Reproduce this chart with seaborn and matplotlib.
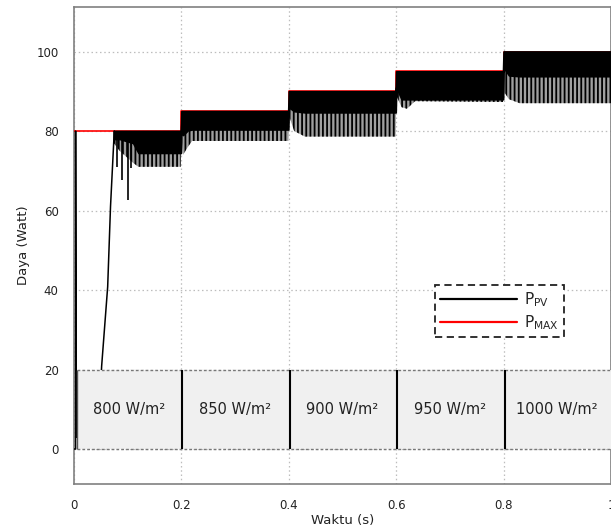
import matplotlib
matplotlib.use("Agg")
import matplotlib.pyplot as plt
import seaborn as sns
import numpy as np
import pandas as pd
from matplotlib.patches import Rectangle
from matplotlib.lines import Line2D

# ---------------- data ----------------
# maximum available power (step profile)
t_max = [0.0, 0.2, 0.4, 0.6, 0.8, 1.0]
p_max = [80, 85, 90, 95, 100, 100]

# start-up trace of P_PV
t_start = [0.0, 0.003, 0.003, 0.004, 0.045, 0.0515, 0.0627, 0.068, 0.075]
p_start = [0.0, 0.0, 80.0, 3.0, 3.0, 20.9, 40.8, 61.0, 80.0]

# envelope of the oscillating P_PV (top, dense-band bottom, minimum of ripples)
t_env = [0.074, 0.085, 0.11, 0.12, 0.199,
         0.2, 0.203, 0.212, 0.22, 0.399,
         0.4, 0.41, 0.43, 0.599,
         0.6, 0.61, 0.62, 0.635, 0.799,
         0.8, 0.81, 0.83, 1.0]
p_top = [80, 80, 80, 80, 80,
         85, 85, 85, 85, 85,
         90, 90, 90, 90,
         95, 95, 95, 95, 95,
         100, 100, 100, 100]
p_dense = [78, 78, 77, 74.5, 74.5,
           82, 79, 80.2, 80.4, 80.4,
           86, 85, 84.7, 84.7,
           91, 88, 88, 88, 88,
           96, 94, 93.8, 93.8]
p_min = [77, 75, 72, 71, 71,
         79, 74, 76, 77.5, 77.5,
         84, 80, 78.6, 78.6,
         89, 86, 85.6, 87.5, 87.3,
         90, 88, 87, 87]

# isolated deep ripples right after start-up
spike_t = [0.080, 0.089, 0.101, 0.107]
spike_lo = [71.0, 67.7, 62.7, 70.6]

# irradiance boxes
irr_edges = [0.006, 0.2, 0.4, 0.6, 0.8, 1.0]
irr_labels = ["800 W/m²", "850 W/m²", "900 W/m²", "950 W/m²", "1000 W/m²"]

# ---------------- style ----------------
sns.set_theme(style="white")
plt.rcParams["font.family"] = ["DejaVu Sans"]
plt.rcParams["mathtext.default"] = "regular"
plt.rcParams["hatch.linewidth"] = 1.3

fig = plt.figure(figsize=(6.11, 5.29), dpi=100)
ax = fig.add_axes([74 / 611, 45 / 529, 1 - 74 / 611, 477 / 529])

# red P_MAX
df_max = pd.DataFrame({"t": t_max, "p": p_max})
sns.lineplot(data=df_max, x="t", y="p", drawstyle="steps-post", color="red",
             lw=1.2, estimator=None, sort=False, ax=ax, zorder=3)

# black start-up trace
df_st = pd.DataFrame({"t": t_start, "p": p_start})
sns.lineplot(data=df_st, x="t", y="p", color="black", lw=1.1,
             estimator=None, sort=False, ax=ax, zorder=4)

# oscillation band
ax.fill_between(t_env, p_dense, p_top, facecolor="black", edgecolor="black",
                lw=1.3, zorder=4)
ax.fill_between(t_env, p_min, p_dense, facecolor="#a0a0a0", edgecolor="black",
                hatch="||||", lw=0, zorder=3.9)
ax.vlines(spike_t, 78, spike_lo, color="black", lw=1.2, zorder=4)

# irradiance boxes
for i, lab in enumerate(irr_labels):
    x0, x1 = irr_edges[i], irr_edges[i + 1]
    ax.add_patch(Rectangle((x0, 0), x1 - x0, 20, facecolor="#f0f0f0",
                           edgecolor="none", zorder=5))
    ax.text((x0 + x1) / 2, 10, lab, ha="center", va="center",
            fontsize=10.5, color="#222222", zorder=7)
ax.hlines([0, 20], irr_edges[0], 1.05, colors="#777777", lw=1.0,
          linestyles=(0, (2, 1.5)), zorder=6)
ax.vlines([e + 0.002 for e in irr_edges[1:-1]], 0, 20, colors="black", lw=1.5, zorder=6)
ax.vlines([irr_edges[0]], 0, 20, colors="#555555", lw=1.0, zorder=6)

# axes
ax.set_xlim(0, 1)
ax.set_ylim(-8.8, 111.2)
ax.set_xticks([0, 0.2, 0.4, 0.6, 0.8, 1.0])
ax.set_xticklabels(["0", "0.2", "0.4", "0.6", "0.8", "1"])
ax.set_yticks([0, 20, 40, 60, 80, 100])
ax.tick_params(axis="both", length=0, labelsize=8.5, colors="#222222", pad=11)
ax.grid(True, color="#bdbdbd", linestyle=(0, (1.2, 2.2)), lw=0.9, zorder=0)
ax.set_axisbelow(True)
for s in ax.spines.values():
    s.set_color("#808080")
    s.set_linewidth(1.2)

ax.set_xlabel("Waktu (s)", fontsize=9.5, labelpad=1, color="#222222")
ax.set_ylabel("Daya (Watt)", fontsize=9.5, labelpad=5, color="#222222")

# legend
h = [Line2D([], [], color="black", lw=1.6), Line2D([], [], color="red", lw=1.6)]
leg = ax.legend(h, [r"P$_{PV}$", r"P$_{MAX}$"], loc="upper left",
                bbox_to_anchor=(0.672, 0.417), borderaxespad=0,
                fontsize=11, handlelength=5.0, handletextpad=0.5,
                labelspacing=0.25, borderpad=0.35, fancybox=False,
                framealpha=1)
fr = leg.get_frame()
fr.set_edgecolor("#222222")
fr.set_linestyle((0, (4, 2.5)))
fr.set_linewidth(1.3)
leg.set_zorder(8)

fig.savefig("out.png", dpi=100)
